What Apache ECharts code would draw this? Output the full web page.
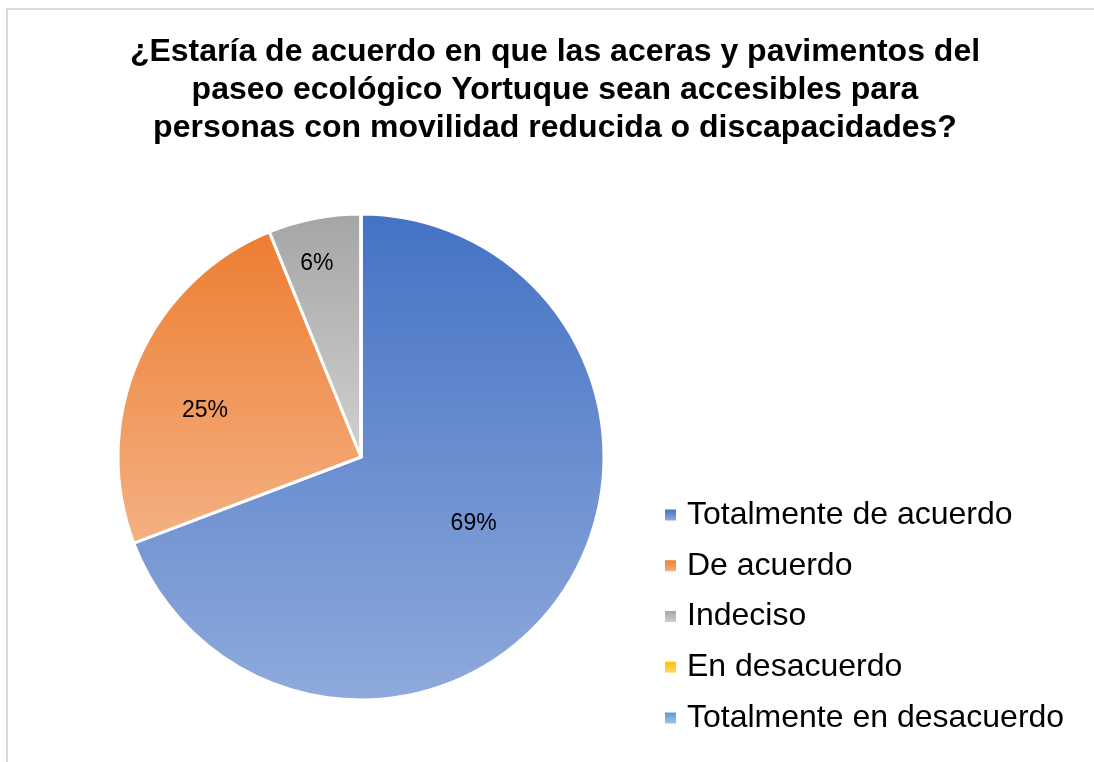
<!DOCTYPE html>
<html>
<head>
<meta charset="utf-8">
<script src="https://cdn.jsdelivr.net/npm/echarts@6/dist/echarts.min.js"></script>
<style>
html,body{margin:0;padding:0;background:#fff;}
#chart{width:1094px;height:762px;}
</style>
</head>
<body>
<div id="chart"></div>
<script>
const titleText = '¿Estaría de acuerdo en que las aceras y pavimentos del\npaseo ecológico Yortuque sean accesibles para\npersonas con movilidad reducida o discapacidades?';
const categories = ['Totalmente de acuerdo', 'De acuerdo', 'Indeciso', 'En desacuerdo', 'Totalmente en desacuerdo'];
const values = [45, 16, 4, 0, 0];
const colorsTop = ['#4472C4', '#ED7D31', '#A5A5A5', '#FFC000', '#5B9BD5'];
const colorsBottom = ['#8FAADC', '#F4B183', '#D0D0D0', '#FFD966', '#9DC3E6'];
const labelScale = [1.06, 1.34, 1.64, 1, 1];
const labelShiftX = [4, -3, -5, 0, 0];
const labelShiftY = [-8, 20, 7, 0, 0];

const FONT = 'Liberation Sans, Arial, sans-serif';
const CX = 361, CY = 457;

const chart = echarts.init(document.getElementById('chart'), null, {renderer: 'canvas'});
const total = values.reduce((a, b) => a + b, 0);

chart.setOption({
  animation: false,
  backgroundColor: '#fff',
  graphic: [{
    type: 'rect',
    shape: {x: 7, y: 9, width: 1200, height: 900},
    style: {fill: 'none', stroke: '#D9D9D9', lineWidth: 2},
    silent: true, z: -10
  }],
  title: {
    text: titleText,
    left: 555,
    top: 33,
    padding: 0,
    textAlign: 'center',
    textStyle: {fontFamily: FONT, fontSize: 32, fontWeight: 'bold', lineHeight: 38, color: '#000'}
  },
  legend: {
    orient: 'vertical',
    left: 665,
    top: 499,
    padding: 0,
    itemGap: 18.75,
    itemWidth: 11,
    itemHeight: 11,
    icon: 'rect',
    itemStyle: {borderWidth: 0},
    data: categories,
    textStyle: {fontFamily: FONT, fontSize: 32, lineHeight: 32, color: '#000', padding: [0, 0, 0, 6]}
  },
  series: [{
    type: 'pie',
    center: [CX, CY],
    radius: 243,
    startAngle: 90,
    clockwise: true,
    avoidLabelOverlap: false,
    data: categories.map((c, i) => ({
      name: c,
      value: values[i],
      itemStyle: {
        color: new echarts.graphic.LinearGradient(0, 0, 0, 1, [
          {offset: 0, color: colorsTop[i]},
          {offset: 1, color: colorsBottom[i]}
        ])
      }
    })),
    itemStyle: {borderColor: '#fff', borderWidth: 3},
    label: {
      show: true,
      position: 'inside',
      fontFamily: FONT,
      fontSize: 23,
      color: '#000',
      formatter: p => p.value > 0 ? Math.round(p.value / total * 100) + '%' : ''
    },
    labelLine: {show: false},
    labelLayout: function (p) {
      const i = p.dataIndex;
      const k = labelScale[i];
      const lx = p.labelRect.x + p.labelRect.width / 2;
      const ly = p.labelRect.y + p.labelRect.height / 2;
      return {x: CX + (lx - CX) * k + labelShiftX[i], y: CY + (ly - CY) * k + labelShiftY[i], align: 'center', verticalAlign: 'middle'};
    },
    emphasis: {disabled: true}
  }]
});
</script>
</body>
</html>
